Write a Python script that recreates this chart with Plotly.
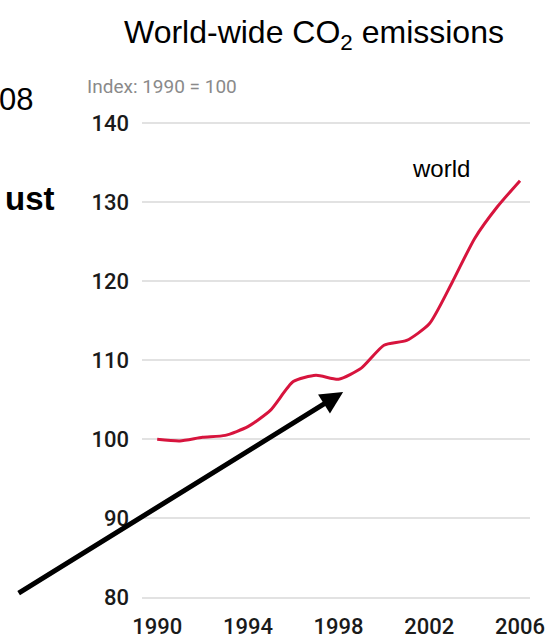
import plotly.graph_objects as go

# World-wide CO2 emissions, index 1990 = 100
years = list(range(1990, 2007))
world_index = [100.0, 99.8, 100.25, 100.5, 101.6, 103.7, 107.3, 108.1, 107.6,
               109.0, 111.9, 112.5, 114.6, 119.8, 125.4, 129.4, 132.7]

y_ticks = [80, 90, 100, 110, 120, 130, 140]
x_ticks = [1990, 1994, 1998, 2002, 2006]

tick_font = dict(family="Roboto", size=22, color="#1a1a1a", weight=500)

TOP, BOTTOM = 115, 30
PLOT_H = 641 - TOP - BOTTOM

fig = go.Figure()
fig.add_trace(go.Scatter(
    x=years, y=world_index, mode="lines",
    line=dict(color="#d7143d", width=3, shape="spline", smoothing=0.6),
    hoverinfo="skip", showlegend=False,
))

fig.update_layout(
    width=556, height=641,
    margin=dict(l=142, r=26, t=TOP, b=BOTTOM),
    paper_bgcolor="white", plot_bgcolor="white",
    xaxis=dict(
        range=[1989.33, 2006.44], tickvals=x_ticks, automargin=False,
        showgrid=False, zeroline=False, showline=False, ticks="",
        tickfont=tick_font,
    ),
    yaxis=dict(
        range=[78.3, 141], tickvals=y_ticks, automargin=False,
        showgrid=True, gridcolor="#e2e2e2", gridwidth=1.5,
        zeroline=False, showline=False, ticks="",
        ticklabelstandoff=12,
        tickfont=tick_font,
    ),
    annotations=[
        dict(text="World-wide CO<sub>2</sub> emissions", xref="paper", yref="paper",
             x=(314 - 142) / 388, y=1 + (TOP - 35) / PLOT_H, xanchor="center", yanchor="middle",
             showarrow=False, font=dict(family="Liberation Sans", size=32, color="#000")),
        dict(text="Index: 1990 = 100", xref="paper", yref="paper",
             x=(85 - 142) / 388, y=1 + (TOP - 86) / PLOT_H, xanchor="left", yanchor="middle",
             showarrow=False, font=dict(family="Roboto", size=19, color="#8a8a8a")),
        dict(text="world", x=2002.5, y=134.2, xanchor="center", yanchor="middle",
             showarrow=False, font=dict(family="Liberation Sans", size=24, color="#000")),
        dict(text="08", xref="paper", yref="paper",
             x=(35 - 142) / 388, y=1 + (TOP - 99) / PLOT_H, xanchor="right", yanchor="middle",
             showarrow=False, font=dict(family="Liberation Sans", size=31, color="#000")),
        dict(text="<b>ust</b>", xref="paper", yref="paper",
             x=(57 - 142) / 388, y=1 + (TOP - 198) / PLOT_H, xanchor="right", yanchor="middle",
             showarrow=False, font=dict(family="Liberation Sans", size=33, color="#000")),
        dict(text="", x=1998.2, y=105.97, ax=-326, ay=202,
             showarrow=True, arrowhead=2, arrowsize=0.9, arrowwidth=5, arrowcolor="#000"),
    ],
)

fig.write_html("out.html")
